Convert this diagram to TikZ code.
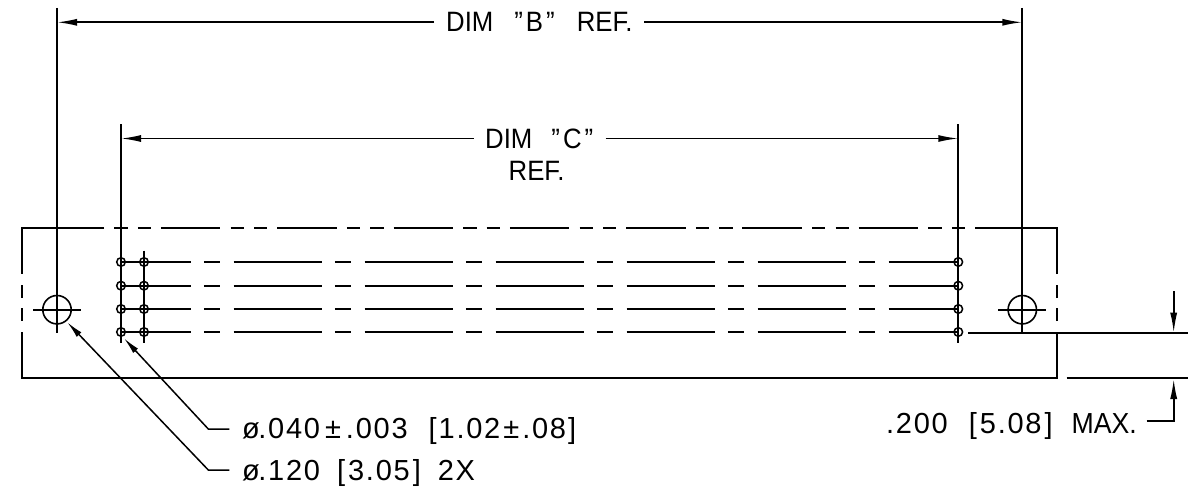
\documentclass[tikz,border=0pt]{standalone}
\usepackage{fontspec}
\setmainfont{Liberation Sans}
\newfontfamily\numfont[LetterSpace=6]{Liberation Sans}
\newfontfamily\capfont[FakeStretch=0.92]{Liberation Sans}
\usetikzlibrary{positioning,arrows.meta}
\tikzset{part/.style = {line width=1.9pt},
         ext/.style = {line width=1.7pt},
         dimline/.style = {line width=1.6pt,-{Latex[length=20pt,width=7pt]}},
         leaderline/.style = {line width=1.5pt,-{Latex[length=17pt,width=6.5pt]}},
         hole/.style = {circle,draw,line width=1.5pt,minimum size=8.6pt,inner sep=0pt},
         bighole/.style = {circle,draw,line width=1.6pt,minimum size=28.4pt,inner sep=0pt},
         lblcap/.style = {anchor=base west,inner sep=0pt,font=\capfont\fontsize{28}{28}\selectfont},
         lblnum/.style = {anchor=base west,inner sep=0pt,font=\numfont\fontsize{29}{29}\selectfont}}

\begin{document}
\begin{tikzpicture}[x=1pt,y=-1pt]
        \useasboundingbox (0,0) rectangle (1192,495);

        % mounting holes
        \node [bighole] (L) at (57,309.7)   {};
        \node [bighole] (R) at (1022.3,309.7) {};

        % contact holes
        \foreach \i/\y in {1/262,2/285.7,3/309,4/332}{
            \node [hole] (a\i) at (121,\y)   {};
            \node [hole] (b\i) at (144,\y)   {};
            \node [hole] (c\i) at (958.3,\y) {};
            \draw [part,dash pattern=on 88.3pt off 13pt on 16pt off 13.7pt,dash phase=18.5pt] (a\i.center) -- (c\i.center);
        }

        % outline
        \draw [part] (104,227.7) -- (22,227.7) -- (22,274);
        \draw [part] (22,285) -- (22,298) (22,308) -- (22,321);
        \draw [part] (22,332) -- (22,378) -- (1057,378) -- (1057,332);
        \draw [part] (1057,321) -- (1057,308) (1057,298) -- (1057,285);
        \draw [part] (1057,274) -- (1057,227.7) -- (975,227.7);
        \draw [part,dash pattern=on 13.3pt off 10.2pt on 13.3pt off 9.8pt on 59.5pt off 10.2pt] (114.3,227.7) -- (965,227.7);

        % center marks and extension lines
        \draw [ext] (57,8) -- (57,333.3);
        \draw [ext] (33,309.7) -- (80.7,309.7);
        \draw [ext] (1022.3,8) -- (1022.3,332.7);
        \draw [ext] (998.3,309.7) -- (1045.7,309.7);
        \draw [ext] (121,124.3) -- (121,343.3);
        \draw [ext] (144,250.7) -- (144,343.3);
        \draw [ext] (958.3,124.3) -- (958.3,343.3);
        \draw [ext] (968.3,332.7) -- (1188.3,332.7);
        \draw [ext] (1066.7,378) -- (1188.3,378);

        % labels
        \node [lblcap] (dimB) at (446,32) {DIM\kern21pt”\kern3pt B\kern3pt”\kern22pt REF.};
        \node [lblcap] (dimC) at (485,148.7) {DIM\kern19pt”\kern3pt C\kern3pt”};
        \node [lblcap] (refC) at (508.5,180) {REF.};
        \node [lblnum] (smallhole) at (242,438) {ø\kern-1.5pt.040\kern5pt±\kern5pt.003\kern21pt[\kern2pt 1.02\kern3pt±\kern3pt.08\kern2pt]};
        \node [lblnum] (bigholelbl) at (242,480) {ø\kern-1.5pt.120\kern17pt[\kern3pt 3.05\kern3pt]\kern17pt 2X};
        \node [lblnum] (maxlbl) at (886,433) {.200\kern21pt[\kern3pt 5.08\kern3pt]\kern19pt{\capfont MAX.}};

        % dimensions
        \coordinate (B1) at (57,22.3);
        \coordinate (B2) at (1022.3,22.3);
        \coordinate (C1) at (121,138.5);
        \coordinate (C2) at (958.3,138.5);
        \draw [dimline] (434,22.3) -- (B1);
        \draw [dimline] (644,22.3) -- (B2);
        \draw [dimline] (473.7,138.5) -- (C1);
        \draw [dimline] (605.7,138.5) -- (C2);

        % leaders
        \coordinate (T1) at (124,338.3);
        \coordinate (T2) at (67.3,322.3);
        \draw [leaderline] (229.3,429) -- (208.3,429) -- (T1);
        \draw [leaderline] (229.3,470) -- (208.3,470) -- (T2);

        % .200 callout
        \coordinate (U) at (1173.7,332.7);
        \coordinate (V) at (1173.7,379);
        \draw [dimline] (1173.7,291) -- (U);
        \draw [dimline] (1146.7,420.7) -- (1173.7,420.7) -- (V);
    \end{tikzpicture}
\end{document}
